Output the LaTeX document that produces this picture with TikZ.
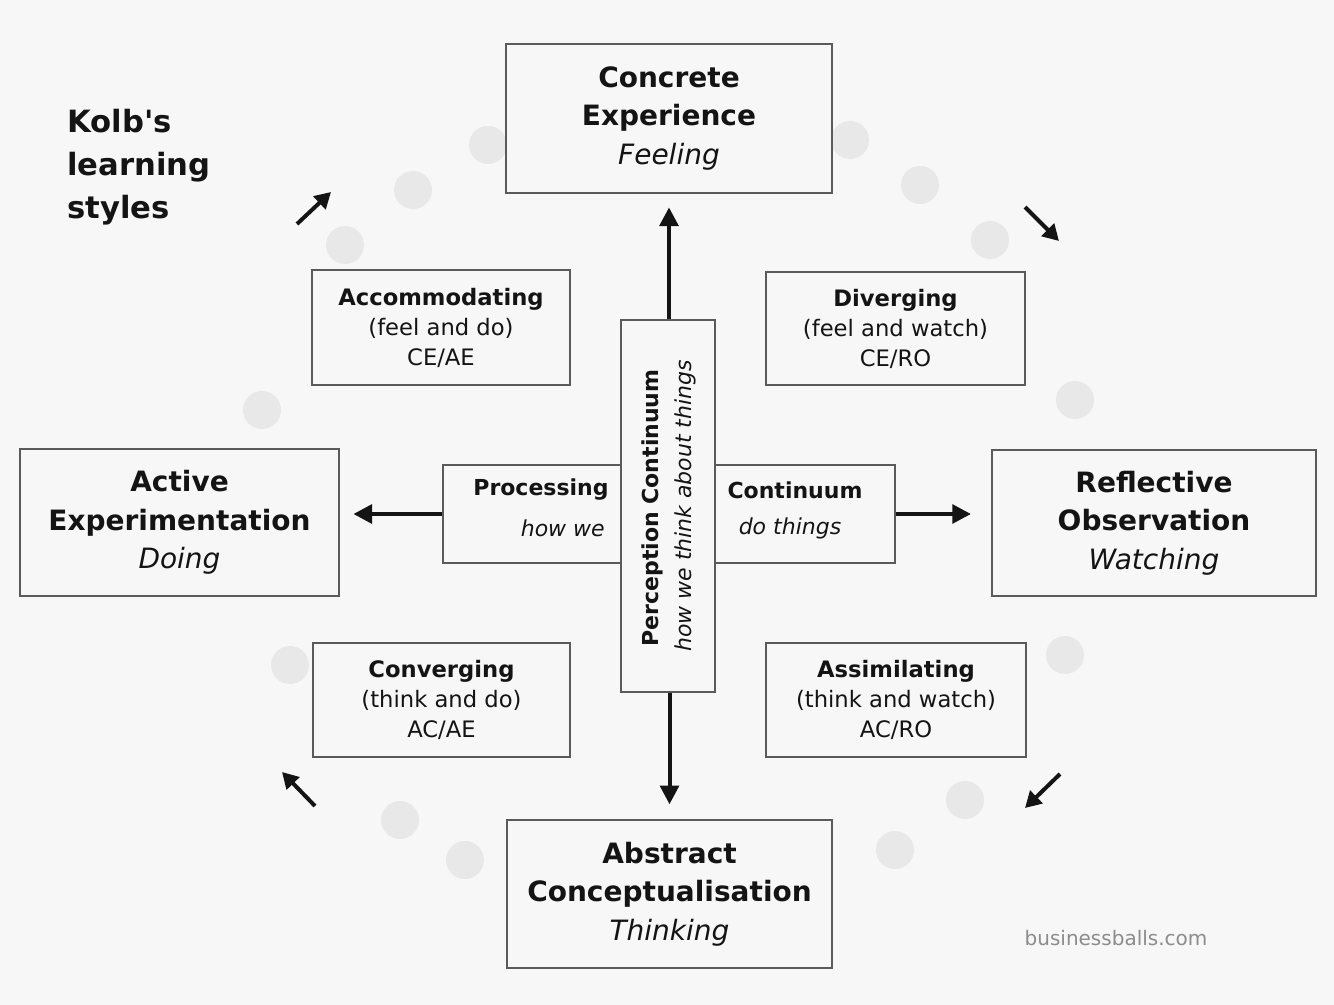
\documentclass[tikz,border=0pt]{standalone}
\usepackage{fontspec}
\setmainfont{DejaVu Sans}[Ligatures=TeXOff]
\usetikzlibrary{arrows.meta}
\definecolor{bg}{HTML}{F7F7F7}
\definecolor{ink}{HTML}{141414}
\definecolor{edge}{HTML}{5A5A5A}
\definecolor{dotc}{HTML}{E8E8E8}
\begin{document}
\begin{tikzpicture}[x=0.75pt,y=-0.75pt,
  sz/.style 2 args={minimum width=#1*0.75pt, minimum height=#2*0.75pt},
  box/.style={draw=edge, line width=1.6pt, fill=bg, inner sep=0pt, align=center, text=ink},
  bigtxt/.style={font=\fontsize{21}{29}\selectfont},
  smalltxt/.style={font=\fontsize{17}{22.5}\selectfont},
  midtxt/.style={font=\fontsize{16.5}{22}\selectfont, text=ink, inner sep=0pt},
  mainarrow/.style={draw=ink, line width=3pt, -{Triangle[length=14pt,width=14pt]}},
  cornerarrow/.style={draw=ink, line width=3pt, -{Triangle[length=12pt,width=13pt]}},
  ringdot/.style={fill=dotc, draw=none}
]
\useasboundingbox (0,0) rectangle (1334,1005);
\fill[bg] (0,0) rectangle (1334,1005);

% faint ring of dots
\foreach \p in {(488,145),(413,190),(345,245),(262,410),(290,665),(400,820),(465,860),(850,140),(920,185),(990,240),(1075,400),(1065,655),(965,800),(895,850)}
  \fill[ringdot] \p circle (19);

% title
\node[anchor=west, align=left, text=ink, inner sep=0pt,
      font=\fontsize{23}{32.5}\selectfont\bfseries] (title) at (67,167)
  {Kolb's\\learning\\styles};

% main boxes
\node[box, bigtxt, sz={326}{149}] (ce) at (669,118.5)
  {\textbf{Concrete}\\\textbf{Experience}\\\textit{Feeling}};
\node[box, bigtxt, sz={325}{148}] (ac) at (669.5,894)
  {\textbf{Abstract}\\\textbf{Conceptualisation}\\\textit{Thinking}};
\node[box, bigtxt, sz={319}{147}] (ae) at (179.5,522.5)
  {\textbf{Active}\\\textbf{Experimentation}\\\textit{Doing}};
\node[box, bigtxt, sz={324}{146}] (ro) at (1154,523)
  {\textbf{Reflective}\\\textbf{Observation}\\\textit{Watching}};

% style boxes
\node[box, smalltxt, sz={258}{115}] (acc) at (441,327.5)
  {\textbf{Accommodating}\\(feel and do)\\CE/AE};
\node[box, smalltxt, sz={259}{113}] (div) at (895.5,328.5)
  {\textbf{Diverging}\\(feel and watch)\\CE/RO};
\node[box, smalltxt, sz={257}{114}] (conv) at (441.5,700)
  {\textbf{Converging}\\(think and do)\\AC/AE};
\node[box, smalltxt, sz={260}{114}] (assim) at (896,700)
  {\textbf{Assimilating}\\(think and watch)\\AC/RO};

% central cross
\node[box, sz={452}{98}] (horiz) at (669,514) {};
\node[box, sz={94}{372}] (vert) at (668,506) {};

\node[midtxt, font=\fontsize{16.5}{22}\selectfont\bfseries] (proc) at (541,490) {Processing};
\node[midtxt, anchor=east, font=\fontsize{16.5}{22}\selectfont\itshape] (howwe) at (605,528) {how we};
\node[midtxt, font=\fontsize{16.5}{22}\selectfont\bfseries] (cont) at (795,490) {Continuum};
\node[midtxt, font=\fontsize{16.5}{22}\selectfont\itshape] (dothings) at (790,528) {do things};

\node[midtxt, rotate=90, font=\fontsize{16.5}{22}\selectfont\bfseries] (perc) at (652,508) {Perception Continuum};
\node[midtxt, rotate=90, font=\fontsize{16.5}{22}\selectfont\itshape] (think) at (685,506) {how we think about things};

% main arrows
\draw[mainarrow, shorten >=10pt] (vert.north -| ce.south) -- (ce.south);
\draw[mainarrow, shorten >=11pt] (vert.south -| ac.north) -- (ac.north);
\draw[mainarrow, shorten >=10pt] (horiz.west) -- (horiz.west -| ae.east);
\draw[mainarrow, shorten >=15pt] (horiz.east) -- (horiz.east -| ro.west);

% corner arrows
\coordinate (nwA) at (297,224); \coordinate (nwB) at (331,192);
\coordinate (neA) at (1025,207); \coordinate (neB) at (1059,241);
\coordinate (seA) at (1060,774); \coordinate (seB) at (1025,808);
\coordinate (swA) at (315,806); \coordinate (swB) at (282,772);
\draw[cornerarrow] (nwA) -- (nwB);
\draw[cornerarrow] (neA) -- (neB);
\draw[cornerarrow] (seA) -- (seB);
\draw[cornerarrow] (swA) -- (swB);

% credit
\node[text=black!45, font=\fontsize{15}{18}\selectfont, inner sep=0pt] (credit) at (1116,938) {businessballs.com};
\end{tikzpicture}
\end{document}
